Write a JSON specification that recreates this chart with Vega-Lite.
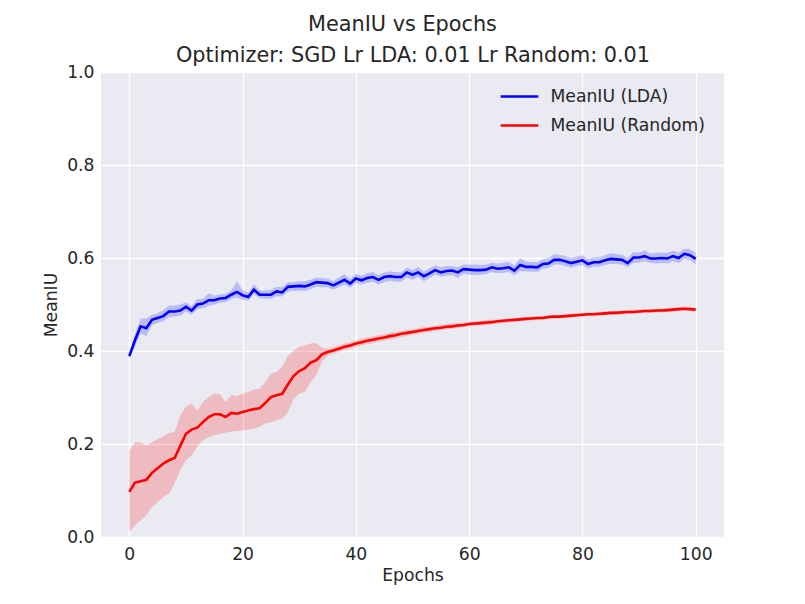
{
"$schema": "https://vega.github.io/schema/vega-lite/v6.json",
"width": 623,
"height": 465,
"autosize": {"type": "none"},
"padding": {"left": 101, "top": 72, "right": 81, "bottom": 67},
"background": "white",
"title": {"text": "MeanIU vs Epochs", "anchor": "middle", "frame": "group", "dx": -10, "fontSize": 20.8, "font": "DejaVu Sans", "fontWeight": "normal", "color": "#262626", "offset": 8},
"config": {
  "view": {"fill": "#EAEAF2", "stroke": null},
  "axis": {"domain": false, "ticks": false, "gridColor": "#ffffff", "gridWidth": 1.3, "labelFont": "DejaVu Sans", "labelFontSize": 17.2, "labelColor": "#262626", "titleFont": "DejaVu Sans", "titleFontSize": 17.2, "titleFontWeight": "normal", "titleColor": "#262626"}
},
"data": {"values": [
{"epoch":0,"series":"MeanIU (LDA)","mean":0.389,"lo":0.384,"hi":0.394},
{"epoch":1,"series":"MeanIU (LDA)","mean":0.423,"lo":0.410,"hi":0.436},
{"epoch":2,"series":"MeanIU (LDA)","mean":0.453,"lo":0.437,"hi":0.470},
{"epoch":3,"series":"MeanIU (LDA)","mean":0.449,"lo":0.432,"hi":0.470},
{"epoch":4,"series":"MeanIU (LDA)","mean":0.467,"lo":0.455,"hi":0.478},
{"epoch":5,"series":"MeanIU (LDA)","mean":0.471,"lo":0.460,"hi":0.481},
{"epoch":6,"series":"MeanIU (LDA)","mean":0.475,"lo":0.464,"hi":0.488},
{"epoch":7,"series":"MeanIU (LDA)","mean":0.485,"lo":0.473,"hi":0.498},
{"epoch":8,"series":"MeanIU (LDA)","mean":0.485,"lo":0.474,"hi":0.498},
{"epoch":9,"series":"MeanIU (LDA)","mean":0.487,"lo":0.476,"hi":0.500},
{"epoch":10,"series":"MeanIU (LDA)","mean":0.495,"lo":0.485,"hi":0.505},
{"epoch":11,"series":"MeanIU (LDA)","mean":0.487,"lo":0.478,"hi":0.497},
{"epoch":12,"series":"MeanIU (LDA)","mean":0.500,"lo":0.490,"hi":0.512},
{"epoch":13,"series":"MeanIU (LDA)","mean":0.502,"lo":0.492,"hi":0.512},
{"epoch":14,"series":"MeanIU (LDA)","mean":0.509,"lo":0.497,"hi":0.524},
{"epoch":15,"series":"MeanIU (LDA)","mean":0.509,"lo":0.500,"hi":0.519},
{"epoch":16,"series":"MeanIU (LDA)","mean":0.513,"lo":0.504,"hi":0.522},
{"epoch":17,"series":"MeanIU (LDA)","mean":0.514,"lo":0.505,"hi":0.523},
{"epoch":18,"series":"MeanIU (LDA)","mean":0.521,"lo":0.512,"hi":0.530},
{"epoch":19,"series":"MeanIU (LDA)","mean":0.527,"lo":0.515,"hi":0.550},
{"epoch":20,"series":"MeanIU (LDA)","mean":0.520,"lo":0.510,"hi":0.531},
{"epoch":21,"series":"MeanIU (LDA)","mean":0.516,"lo":0.508,"hi":0.525},
{"epoch":22,"series":"MeanIU (LDA)","mean":0.532,"lo":0.522,"hi":0.544},
{"epoch":23,"series":"MeanIU (LDA)","mean":0.521,"lo":0.513,"hi":0.530},
{"epoch":24,"series":"MeanIU (LDA)","mean":0.521,"lo":0.513,"hi":0.530},
{"epoch":25,"series":"MeanIU (LDA)","mean":0.521,"lo":0.512,"hi":0.531},
{"epoch":26,"series":"MeanIU (LDA)","mean":0.528,"lo":0.518,"hi":0.538},
{"epoch":27,"series":"MeanIU (LDA)","mean":0.526,"lo":0.517,"hi":0.537},
{"epoch":28,"series":"MeanIU (LDA)","mean":0.538,"lo":0.528,"hi":0.548},
{"epoch":29,"series":"MeanIU (LDA)","mean":0.539,"lo":0.529,"hi":0.548},
{"epoch":30,"series":"MeanIU (LDA)","mean":0.540,"lo":0.530,"hi":0.550},
{"epoch":31,"series":"MeanIU (LDA)","mean":0.539,"lo":0.529,"hi":0.550},
{"epoch":32,"series":"MeanIU (LDA)","mean":0.543,"lo":0.533,"hi":0.553},
{"epoch":33,"series":"MeanIU (LDA)","mean":0.548,"lo":0.538,"hi":0.558},
{"epoch":34,"series":"MeanIU (LDA)","mean":0.547,"lo":0.537,"hi":0.557},
{"epoch":35,"series":"MeanIU (LDA)","mean":0.546,"lo":0.537,"hi":0.556},
{"epoch":36,"series":"MeanIU (LDA)","mean":0.541,"lo":0.532,"hi":0.550},
{"epoch":37,"series":"MeanIU (LDA)","mean":0.547,"lo":0.537,"hi":0.558},
{"epoch":38,"series":"MeanIU (LDA)","mean":0.553,"lo":0.543,"hi":0.565},
{"epoch":39,"series":"MeanIU (LDA)","mean":0.545,"lo":0.536,"hi":0.555},
{"epoch":40,"series":"MeanIU (LDA)","mean":0.556,"lo":0.546,"hi":0.566},
{"epoch":41,"series":"MeanIU (LDA)","mean":0.552,"lo":0.543,"hi":0.562},
{"epoch":42,"series":"MeanIU (LDA)","mean":0.557,"lo":0.547,"hi":0.568},
{"epoch":43,"series":"MeanIU (LDA)","mean":0.559,"lo":0.549,"hi":0.570},
{"epoch":44,"series":"MeanIU (LDA)","mean":0.553,"lo":0.543,"hi":0.563},
{"epoch":45,"series":"MeanIU (LDA)","mean":0.559,"lo":0.548,"hi":0.569},
{"epoch":46,"series":"MeanIU (LDA)","mean":0.561,"lo":0.551,"hi":0.571},
{"epoch":47,"series":"MeanIU (LDA)","mean":0.559,"lo":0.549,"hi":0.570},
{"epoch":48,"series":"MeanIU (LDA)","mean":0.559,"lo":0.549,"hi":0.569},
{"epoch":49,"series":"MeanIU (LDA)","mean":0.569,"lo":0.558,"hi":0.580},
{"epoch":50,"series":"MeanIU (LDA)","mean":0.564,"lo":0.553,"hi":0.574},
{"epoch":51,"series":"MeanIU (LDA)","mean":0.569,"lo":0.559,"hi":0.580},
{"epoch":52,"series":"MeanIU (LDA)","mean":0.561,"lo":0.550,"hi":0.571},
{"epoch":53,"series":"MeanIU (LDA)","mean":0.567,"lo":0.557,"hi":0.578},
{"epoch":54,"series":"MeanIU (LDA)","mean":0.574,"lo":0.564,"hi":0.584},
{"epoch":55,"series":"MeanIU (LDA)","mean":0.569,"lo":0.560,"hi":0.580},
{"epoch":56,"series":"MeanIU (LDA)","mean":0.572,"lo":0.562,"hi":0.583},
{"epoch":57,"series":"MeanIU (LDA)","mean":0.573,"lo":0.563,"hi":0.583},
{"epoch":58,"series":"MeanIU (LDA)","mean":0.569,"lo":0.557,"hi":0.580},
{"epoch":59,"series":"MeanIU (LDA)","mean":0.576,"lo":0.566,"hi":0.586},
{"epoch":60,"series":"MeanIU (LDA)","mean":0.575,"lo":0.564,"hi":0.586},
{"epoch":61,"series":"MeanIU (LDA)","mean":0.574,"lo":0.563,"hi":0.586},
{"epoch":62,"series":"MeanIU (LDA)","mean":0.574,"lo":0.564,"hi":0.585},
{"epoch":63,"series":"MeanIU (LDA)","mean":0.575,"lo":0.565,"hi":0.586},
{"epoch":64,"series":"MeanIU (LDA)","mean":0.580,"lo":0.570,"hi":0.590},
{"epoch":65,"series":"MeanIU (LDA)","mean":0.577,"lo":0.567,"hi":0.588},
{"epoch":66,"series":"MeanIU (LDA)","mean":0.578,"lo":0.568,"hi":0.590},
{"epoch":67,"series":"MeanIU (LDA)","mean":0.580,"lo":0.570,"hi":0.592},
{"epoch":68,"series":"MeanIU (LDA)","mean":0.573,"lo":0.563,"hi":0.584},
{"epoch":69,"series":"MeanIU (LDA)","mean":0.585,"lo":0.572,"hi":0.600},
{"epoch":70,"series":"MeanIU (LDA)","mean":0.581,"lo":0.571,"hi":0.592},
{"epoch":71,"series":"MeanIU (LDA)","mean":0.581,"lo":0.571,"hi":0.592},
{"epoch":72,"series":"MeanIU (LDA)","mean":0.580,"lo":0.570,"hi":0.591},
{"epoch":73,"series":"MeanIU (LDA)","mean":0.587,"lo":0.577,"hi":0.598},
{"epoch":74,"series":"MeanIU (LDA)","mean":0.588,"lo":0.578,"hi":0.600},
{"epoch":75,"series":"MeanIU (LDA)","mean":0.596,"lo":0.586,"hi":0.608},
{"epoch":76,"series":"MeanIU (LDA)","mean":0.596,"lo":0.586,"hi":0.607},
{"epoch":77,"series":"MeanIU (LDA)","mean":0.593,"lo":0.583,"hi":0.604},
{"epoch":78,"series":"MeanIU (LDA)","mean":0.589,"lo":0.579,"hi":0.600},
{"epoch":79,"series":"MeanIU (LDA)","mean":0.592,"lo":0.582,"hi":0.603},
{"epoch":80,"series":"MeanIU (LDA)","mean":0.595,"lo":0.585,"hi":0.606},
{"epoch":81,"series":"MeanIU (LDA)","mean":0.587,"lo":0.577,"hi":0.598},
{"epoch":82,"series":"MeanIU (LDA)","mean":0.591,"lo":0.581,"hi":0.601},
{"epoch":83,"series":"MeanIU (LDA)","mean":0.591,"lo":0.581,"hi":0.602},
{"epoch":84,"series":"MeanIU (LDA)","mean":0.595,"lo":0.585,"hi":0.606},
{"epoch":85,"series":"MeanIU (LDA)","mean":0.598,"lo":0.587,"hi":0.610},
{"epoch":86,"series":"MeanIU (LDA)","mean":0.597,"lo":0.587,"hi":0.608},
{"epoch":87,"series":"MeanIU (LDA)","mean":0.596,"lo":0.586,"hi":0.607},
{"epoch":88,"series":"MeanIU (LDA)","mean":0.589,"lo":0.580,"hi":0.600},
{"epoch":89,"series":"MeanIU (LDA)","mean":0.601,"lo":0.590,"hi":0.613},
{"epoch":90,"series":"MeanIU (LDA)","mean":0.601,"lo":0.590,"hi":0.612},
{"epoch":91,"series":"MeanIU (LDA)","mean":0.604,"lo":0.593,"hi":0.616},
{"epoch":92,"series":"MeanIU (LDA)","mean":0.599,"lo":0.589,"hi":0.610},
{"epoch":93,"series":"MeanIU (LDA)","mean":0.599,"lo":0.588,"hi":0.611},
{"epoch":94,"series":"MeanIU (LDA)","mean":0.600,"lo":0.589,"hi":0.612},
{"epoch":95,"series":"MeanIU (LDA)","mean":0.599,"lo":0.588,"hi":0.611},
{"epoch":96,"series":"MeanIU (LDA)","mean":0.604,"lo":0.593,"hi":0.616},
{"epoch":97,"series":"MeanIU (LDA)","mean":0.600,"lo":0.589,"hi":0.612},
{"epoch":98,"series":"MeanIU (LDA)","mean":0.609,"lo":0.598,"hi":0.620},
{"epoch":99,"series":"MeanIU (LDA)","mean":0.606,"lo":0.595,"hi":0.619},
{"epoch":100,"series":"MeanIU (LDA)","mean":0.598,"lo":0.586,"hi":0.612},
{"epoch":0,"series":"MeanIU (Random)","mean":0.097,"lo":0.011,"hi":0.186},
{"epoch":1,"series":"MeanIU (Random)","mean":0.117,"lo":0.025,"hi":0.204},
{"epoch":2,"series":"MeanIU (Random)","mean":0.120,"lo":0.036,"hi":0.203},
{"epoch":3,"series":"MeanIU (Random)","mean":0.123,"lo":0.047,"hi":0.197},
{"epoch":4,"series":"MeanIU (Random)","mean":0.138,"lo":0.065,"hi":0.204},
{"epoch":5,"series":"MeanIU (Random)","mean":0.148,"lo":0.075,"hi":0.211},
{"epoch":6,"series":"MeanIU (Random)","mean":0.158,"lo":0.086,"hi":0.216},
{"epoch":7,"series":"MeanIU (Random)","mean":0.165,"lo":0.093,"hi":0.224},
{"epoch":8,"series":"MeanIU (Random)","mean":0.170,"lo":0.115,"hi":0.226},
{"epoch":9,"series":"MeanIU (Random)","mean":0.196,"lo":0.143,"hi":0.262},
{"epoch":10,"series":"MeanIU (Random)","mean":0.222,"lo":0.165,"hi":0.280},
{"epoch":11,"series":"MeanIU (Random)","mean":0.231,"lo":0.176,"hi":0.287},
{"epoch":12,"series":"MeanIU (Random)","mean":0.235,"lo":0.194,"hi":0.272},
{"epoch":13,"series":"MeanIU (Random)","mean":0.247,"lo":0.208,"hi":0.290},
{"epoch":14,"series":"MeanIU (Random)","mean":0.258,"lo":0.215,"hi":0.301},
{"epoch":15,"series":"MeanIU (Random)","mean":0.264,"lo":0.219,"hi":0.308},
{"epoch":16,"series":"MeanIU (Random)","mean":0.264,"lo":0.222,"hi":0.307},
{"epoch":17,"series":"MeanIU (Random)","mean":0.258,"lo":0.224,"hi":0.290},
{"epoch":18,"series":"MeanIU (Random)","mean":0.267,"lo":0.227,"hi":0.305},
{"epoch":19,"series":"MeanIU (Random)","mean":0.265,"lo":0.228,"hi":0.303},
{"epoch":20,"series":"MeanIU (Random)","mean":0.269,"lo":0.229,"hi":0.308},
{"epoch":21,"series":"MeanIU (Random)","mean":0.272,"lo":0.231,"hi":0.312},
{"epoch":22,"series":"MeanIU (Random)","mean":0.275,"lo":0.233,"hi":0.317},
{"epoch":23,"series":"MeanIU (Random)","mean":0.277,"lo":0.237,"hi":0.319},
{"epoch":24,"series":"MeanIU (Random)","mean":0.288,"lo":0.244,"hi":0.333},
{"epoch":25,"series":"MeanIU (Random)","mean":0.301,"lo":0.247,"hi":0.351},
{"epoch":26,"series":"MeanIU (Random)","mean":0.305,"lo":0.251,"hi":0.355},
{"epoch":27,"series":"MeanIU (Random)","mean":0.308,"lo":0.254,"hi":0.366},
{"epoch":28,"series":"MeanIU (Random)","mean":0.328,"lo":0.269,"hi":0.389},
{"epoch":29,"series":"MeanIU (Random)","mean":0.346,"lo":0.297,"hi":0.401},
{"epoch":30,"series":"MeanIU (Random)","mean":0.357,"lo":0.308,"hi":0.409},
{"epoch":31,"series":"MeanIU (Random)","mean":0.363,"lo":0.312,"hi":0.412},
{"epoch":32,"series":"MeanIU (Random)","mean":0.375,"lo":0.333,"hi":0.416},
{"epoch":33,"series":"MeanIU (Random)","mean":0.380,"lo":0.348,"hi":0.417},
{"epoch":34,"series":"MeanIU (Random)","mean":0.393,"lo":0.378,"hi":0.407},
{"epoch":35,"series":"MeanIU (Random)","mean":0.398,"lo":0.390,"hi":0.405},
{"epoch":36,"series":"MeanIU (Random)","mean":0.401,"lo":0.394,"hi":0.408},
{"epoch":37,"series":"MeanIU (Random)","mean":0.405,"lo":0.398,"hi":0.412},
{"epoch":38,"series":"MeanIU (Random)","mean":0.409,"lo":0.402,"hi":0.416},
{"epoch":39,"series":"MeanIU (Random)","mean":0.412,"lo":0.405,"hi":0.419},
{"epoch":40,"series":"MeanIU (Random)","mean":0.416,"lo":0.409,"hi":0.423},
{"epoch":41,"series":"MeanIU (Random)","mean":0.419,"lo":0.412,"hi":0.426},
{"epoch":42,"series":"MeanIU (Random)","mean":0.422,"lo":0.415,"hi":0.429},
{"epoch":43,"series":"MeanIU (Random)","mean":0.424,"lo":0.417,"hi":0.431},
{"epoch":44,"series":"MeanIU (Random)","mean":0.427,"lo":0.420,"hi":0.434},
{"epoch":45,"series":"MeanIU (Random)","mean":0.429,"lo":0.422,"hi":0.436},
{"epoch":46,"series":"MeanIU (Random)","mean":0.432,"lo":0.425,"hi":0.439},
{"epoch":47,"series":"MeanIU (Random)","mean":0.434,"lo":0.427,"hi":0.441},
{"epoch":48,"series":"MeanIU (Random)","mean":0.437,"lo":0.430,"hi":0.443},
{"epoch":49,"series":"MeanIU (Random)","mean":0.439,"lo":0.432,"hi":0.445},
{"epoch":50,"series":"MeanIU (Random)","mean":0.441,"lo":0.435,"hi":0.447},
{"epoch":51,"series":"MeanIU (Random)","mean":0.443,"lo":0.437,"hi":0.449},
{"epoch":52,"series":"MeanIU (Random)","mean":0.445,"lo":0.439,"hi":0.451},
{"epoch":53,"series":"MeanIU (Random)","mean":0.447,"lo":0.441,"hi":0.452},
{"epoch":54,"series":"MeanIU (Random)","mean":0.449,"lo":0.443,"hi":0.454},
{"epoch":55,"series":"MeanIU (Random)","mean":0.450,"lo":0.445,"hi":0.456},
{"epoch":56,"series":"MeanIU (Random)","mean":0.452,"lo":0.446,"hi":0.457},
{"epoch":57,"series":"MeanIU (Random)","mean":0.453,"lo":0.448,"hi":0.459},
{"epoch":58,"series":"MeanIU (Random)","mean":0.455,"lo":0.450,"hi":0.460},
{"epoch":59,"series":"MeanIU (Random)","mean":0.456,"lo":0.451,"hi":0.461},
{"epoch":60,"series":"MeanIU (Random)","mean":0.458,"lo":0.453,"hi":0.463},
{"epoch":61,"series":"MeanIU (Random)","mean":0.459,"lo":0.454,"hi":0.464},
{"epoch":62,"series":"MeanIU (Random)","mean":0.460,"lo":0.455,"hi":0.465},
{"epoch":63,"series":"MeanIU (Random)","mean":0.461,"lo":0.456,"hi":0.466},
{"epoch":64,"series":"MeanIU (Random)","mean":0.462,"lo":0.457,"hi":0.467},
{"epoch":65,"series":"MeanIU (Random)","mean":0.464,"lo":0.459,"hi":0.468},
{"epoch":66,"series":"MeanIU (Random)","mean":0.465,"lo":0.460,"hi":0.469},
{"epoch":67,"series":"MeanIU (Random)","mean":0.466,"lo":0.461,"hi":0.470},
{"epoch":68,"series":"MeanIU (Random)","mean":0.467,"lo":0.463,"hi":0.471},
{"epoch":69,"series":"MeanIU (Random)","mean":0.468,"lo":0.464,"hi":0.472},
{"epoch":70,"series":"MeanIU (Random)","mean":0.469,"lo":0.465,"hi":0.473},
{"epoch":71,"series":"MeanIU (Random)","mean":0.470,"lo":0.466,"hi":0.474},
{"epoch":72,"series":"MeanIU (Random)","mean":0.471,"lo":0.467,"hi":0.475},
{"epoch":73,"series":"MeanIU (Random)","mean":0.471,"lo":0.467,"hi":0.475},
{"epoch":74,"series":"MeanIU (Random)","mean":0.473,"lo":0.469,"hi":0.477},
{"epoch":75,"series":"MeanIU (Random)","mean":0.474,"lo":0.470,"hi":0.478},
{"epoch":76,"series":"MeanIU (Random)","mean":0.474,"lo":0.470,"hi":0.478},
{"epoch":77,"series":"MeanIU (Random)","mean":0.475,"lo":0.471,"hi":0.479},
{"epoch":78,"series":"MeanIU (Random)","mean":0.476,"lo":0.472,"hi":0.480},
{"epoch":79,"series":"MeanIU (Random)","mean":0.477,"lo":0.473,"hi":0.481},
{"epoch":80,"series":"MeanIU (Random)","mean":0.478,"lo":0.474,"hi":0.482},
{"epoch":81,"series":"MeanIU (Random)","mean":0.479,"lo":0.475,"hi":0.483},
{"epoch":82,"series":"MeanIU (Random)","mean":0.479,"lo":0.475,"hi":0.483},
{"epoch":83,"series":"MeanIU (Random)","mean":0.480,"lo":0.476,"hi":0.484},
{"epoch":84,"series":"MeanIU (Random)","mean":0.481,"lo":0.477,"hi":0.485},
{"epoch":85,"series":"MeanIU (Random)","mean":0.482,"lo":0.478,"hi":0.486},
{"epoch":86,"series":"MeanIU (Random)","mean":0.482,"lo":0.478,"hi":0.486},
{"epoch":87,"series":"MeanIU (Random)","mean":0.483,"lo":0.479,"hi":0.487},
{"epoch":88,"series":"MeanIU (Random)","mean":0.484,"lo":0.480,"hi":0.488},
{"epoch":89,"series":"MeanIU (Random)","mean":0.484,"lo":0.480,"hi":0.488},
{"epoch":90,"series":"MeanIU (Random)","mean":0.485,"lo":0.481,"hi":0.489},
{"epoch":91,"series":"MeanIU (Random)","mean":0.486,"lo":0.482,"hi":0.490},
{"epoch":92,"series":"MeanIU (Random)","mean":0.486,"lo":0.482,"hi":0.490},
{"epoch":93,"series":"MeanIU (Random)","mean":0.487,"lo":0.483,"hi":0.491},
{"epoch":94,"series":"MeanIU (Random)","mean":0.487,"lo":0.483,"hi":0.491},
{"epoch":95,"series":"MeanIU (Random)","mean":0.488,"lo":0.484,"hi":0.492},
{"epoch":96,"series":"MeanIU (Random)","mean":0.489,"lo":0.485,"hi":0.493},
{"epoch":97,"series":"MeanIU (Random)","mean":0.490,"lo":0.486,"hi":0.494},
{"epoch":98,"series":"MeanIU (Random)","mean":0.491,"lo":0.487,"hi":0.495},
{"epoch":99,"series":"MeanIU (Random)","mean":0.490,"lo":0.486,"hi":0.494},
{"epoch":100,"series":"MeanIU (Random)","mean":0.489,"lo":0.485,"hi":0.493}
]},
"resolve": {"axis": {"x": "independent"}},
"layer": [
  {
    "mark": {"type": "area", "fillOpacity": 0.2},
    "encoding": {
      "x": {"field": "epoch", "type": "quantitative", "scale": {"domain": [-5, 105], "nice": false, "zero": false},
            "axis": {"orient": "top", "title": "Optimizer: SGD Lr LDA: 0.01 Lr Random: 0.01", "labels": false, "grid": false, "titleFontSize": 20.8, "titlePadding": 7}},
      "y": {"field": "lo", "type": "quantitative", "scale": {"domain": [0, 1], "nice": false},
            "axis": {"title": "MeanIU", "values": [0, 0.2, 0.4, 0.6, 0.8, 1.0], "format": ".1f", "labelPadding": 7, "titlePadding": 6}},
      "y2": {"field": "hi"},
      "color": {"field": "series", "type": "nominal", "scale": {"domain": ["MeanIU (LDA)", "MeanIU (Random)"], "range": ["#0000ff", "#ff0000"]}}
    }
  },
  {
    "mark": {"type": "line", "strokeWidth": 2.6},
    "encoding": {
      "x": {"field": "epoch", "type": "quantitative", "axis": {"title": "Epochs", "values": [0, 20, 40, 60, 80, 100], "labelPadding": 8, "titlePadding": 4, "grid": true}},
      "y": {"field": "mean", "type": "quantitative"},
      "color": {"field": "series", "type": "nominal",
                "legend": {"orient": "none", "legendX": 398, "legendY": 4, "title": null, "padding": 0, "symbolType": "stroke", "symbolSize": 1414, "symbolStrokeWidth": 2.5, "labelFont": "DejaVu Sans", "labelFontSize": 17.2, "labelColor": "#262626", "labelOffset": 10.5, "rowPadding": -7}}
    }
  }
]
}
